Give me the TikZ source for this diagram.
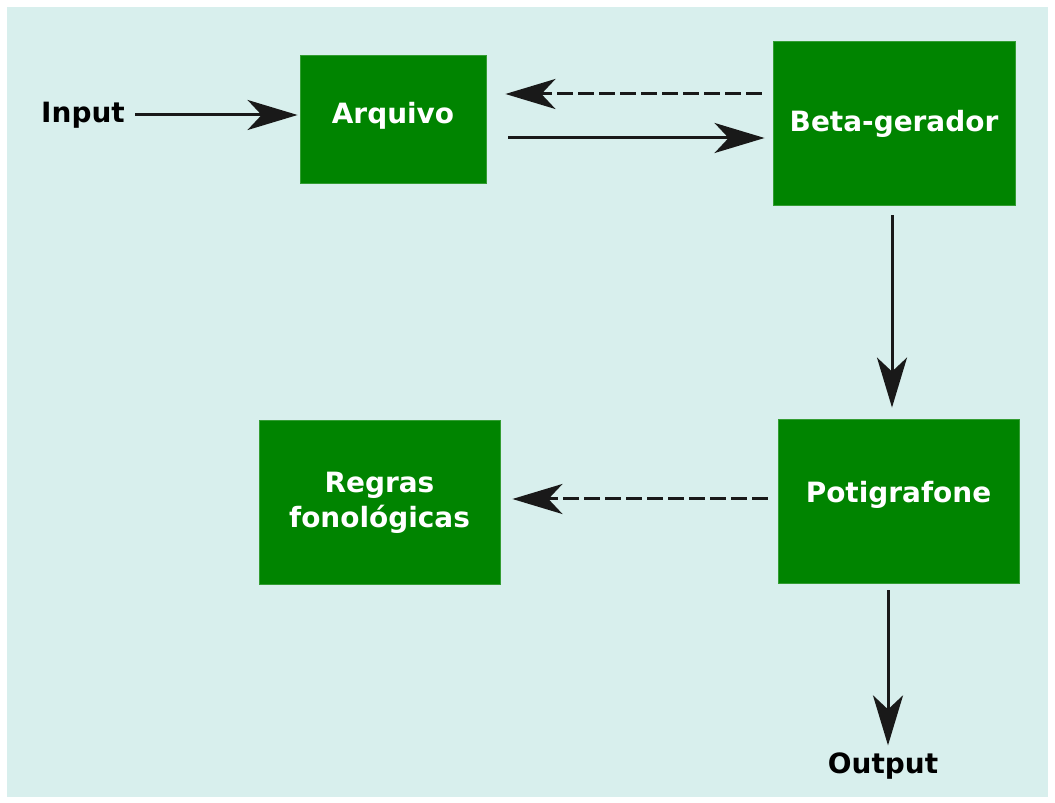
\documentclass[tikz,border=0pt]{standalone}
\usepackage{fontspec}
\setmainfont{DejaVu Sans}
\usetikzlibrary{arrows.meta}
\definecolor{bgc}{RGB}{216,239,237}
\definecolor{boxg}{RGB}{0,132,0}
\begin{document}
\begin{tikzpicture}[x=0.02cm,y=-0.02cm,
  box/.style={draw=boxg!80!white,line width=0.5pt,fill=boxg,text=white,font=\fontsize{15.9}{19.9}\selectfont\bfseries,align=center,inner sep=0pt},
  lbl/.style={text=black,font=\fontsize{15.9}{21}\selectfont\bfseries,inner sep=0pt},
  conn/.style={line width=0.06cm,draw=black!90,-{Stealth[length=1cm,width=0.6cm,inset=0.28cm]}},
  dconn/.style={conn,dash pattern=on 0.32cm off 0.1cm}]
\useasboundingbox (0,0) rectangle (1055,803);
\fill[bgc] (7,7) rectangle (1048,797);
\node[box,minimum width=0.02cm*186,minimum height=0.02cm*128,text height=0.40cm,text depth=0.2cm] (arq) at (393,119) {Arquivo};
\node[box,minimum width=0.02cm*242,minimum height=0.02cm*164,text height=0.56cm,text depth=0.2cm] (beta) at (894,123) {Beta-gerador};
\node[box,minimum width=0.02cm*241,minimum height=0.02cm*164,text height=0.28cm,text depth=0.2cm] (poti) at (898.5,501) {Potigrafone};
\node[box,minimum width=0.02cm*241,minimum height=0.02cm*164] (regras) at (379.5,502) {\rule{0pt}{0.45cm}Regras\\fonológicas};
\node[lbl] (input) at (83,115) {Input};
\node[lbl] (output) at (883,766) {Output};
\coordinate (yin) at (0,115);
\coordinate (ysol) at (0,138);
\coordinate (ydash) at (0,94);
\coordinate (xv) at (892,0);
\coordinate (ydash2) at (0,499);
\coordinate (xo) at (888,0);
\draw[conn,shorten <=0.2cm,shorten >=0.04cm] (input.east |- yin) -- (arq.west |- yin);
\draw[dconn,shorten <=0.22cm,shorten >=0.38cm] (beta.west |- ydash) -- (arq.east |- ydash);
\draw[conn,shorten <=0.44cm,shorten >=0.16cm] (arq.east |- ysol) -- (beta.west |- ysol);
\draw[conn,shorten <=0.2cm,shorten >=0.22cm] (beta.south -| xv) -- (poti.north -| xv);
\draw[dconn,shorten <=0.2cm,shorten >=0.24cm] (poti.west |- ydash2) -- (regras.east |- ydash2);
\draw[conn,shorten <=0.14cm,shorten >=0.14cm] (poti.south -| xo) -- (output.north -| xo);
\end{tikzpicture}
\end{document}
